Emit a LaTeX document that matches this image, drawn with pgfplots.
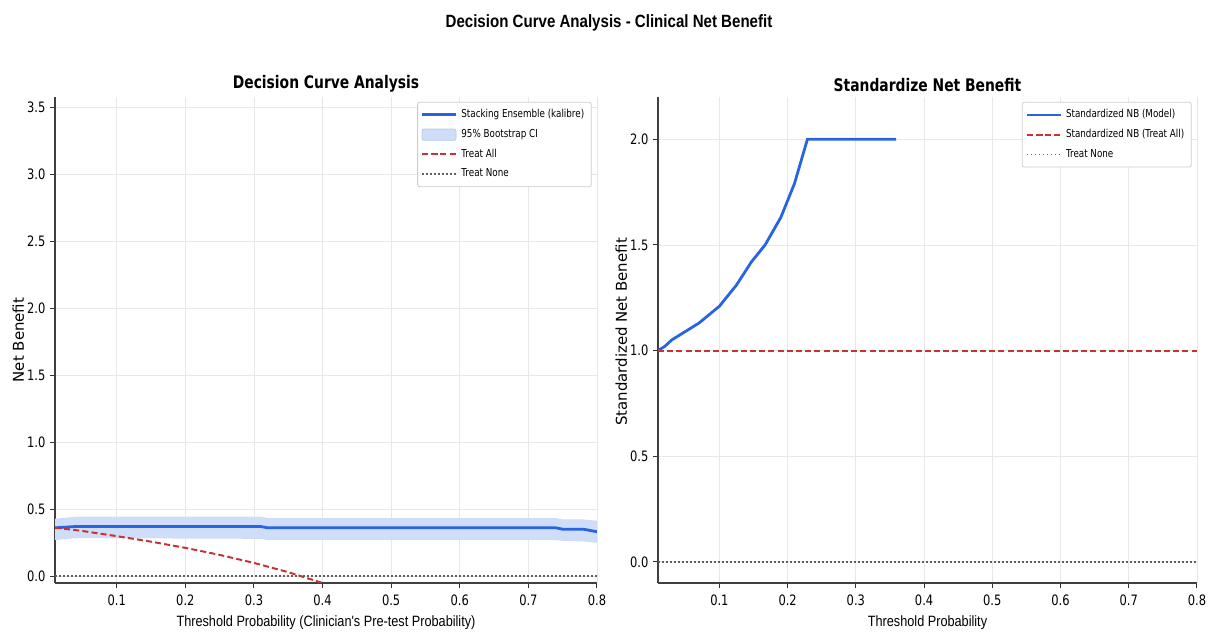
\documentclass[border=0pt]{standalone}
\usepackage{pgfplots}
\pgfplotsset{compat=1.18}
\usepackage{fontspec}
\setmainfont{DejaVu Sans}[FakeStretch=0.8]
\newfontfamily\djv{DejaVu Sans}
\newfontfamily\arialc{Liberation Sans}[FakeStretch=0.85]
\definecolor{nbblue}{RGB}{40,100,225}
\definecolor{nbred}{RGB}{200,50,50}
\definecolor{nbgray}{RGB}{95,95,95}
\pgfplotsset{
  dcastyle/.style={
    scale only axis,
    axis x line*=bottom, axis y line*=left,
    xmin=0.01, xmax=0.8,
    xtick={0.1,0.2,0.3,0.4,0.5,0.6,0.7,0.8},
    grid=major, grid style={black!9, line width=0.4pt},
    tick style={black!80, line width=0.5pt},
    major tick length=2.5bp, tick align=outside,
    axis line style={black!75, line width=0.6pt},
    ticklabel style={font=\fontsize{7.2}{8}\selectfont},
    yticklabel style={xshift=1.2bp},
    /pgf/number format/assume math mode=true,
    xticklabel style={/pgf/number format/.cd, fixed, fixed zerofill, precision=1},
    yticklabel style={/pgf/number format/.cd, fixed, fixed zerofill, precision=1},
    title style={font=\bfseries\fontsize{8.7}{9}\selectfont, yshift=-7bp},
    xlabel style={font=\arialc\fontsize{7.5}{8}\selectfont, yshift=2bp},
    ylabel style={font=\djv\fontsize{7.5}{8}\selectfont},
    legend style={at={(0.99,0.99)}, anchor=north east, font=\fontsize{5.5}{6.5}\selectfont,
      draw=black!20, rounded corners=1pt, row sep=0.3bp, inner sep=1.5bp},
    legend cell align=left,
    width=271bp, height=243bp,
  }
}
\begin{document}
\begin{tikzpicture}
\path[use as bounding box] (0,0) rectangle (605.5bp,317.5bp);
\node[font=\arialc\bfseries\fontsize{8.9}{9}\selectfont] at (304.5bp,306bp) {Decision Curve Analysis - Clinical Net Benefit};

\begin{axis}[dcastyle, at={(27.5bp,26bp)}, anchor=south west,
  ymin=-0.05, ymax=3.58, ytick={0,0.5,1,1.5,2,2.5,3,3.5},
  title={Decision Curve Analysis},
  xlabel={Threshold Probability (Clinician's Pre-test Probability)},
  ylabel={Net Benefit}, ylabel style={yshift=-5.3bp}]
\addlegendimage{nbblue, line width=1.4pt}
\addlegendentry{Stacking Ensemble (kalibre)}
\addlegendimage{area legend, fill=nbblue!22, draw=nbblue!35}
\addlegendentry{95\% Bootstrap CI}
\addlegendimage{nbred, dash pattern=on 3bp off 1.6bp, line width=1pt}
\addlegendentry{Treat All}
\addlegendimage{nbgray, dash pattern=on 0.8bp off 1.2bp, line width=0.9pt}
\addlegendentry{Treat None}
\addplot[forget plot, fill=nbblue!22, draw=none] coordinates {
 (0.01,0.43) (0.04,0.445) (0.31,0.445) (0.32,0.435) (0.74,0.435) (0.75,0.425) (0.78,0.425) (0.80,0.415)
 (0.80,0.25) (0.78,0.26) (0.75,0.265) (0.74,0.27) (0.32,0.27) (0.31,0.28) (0.04,0.285) (0.01,0.27)
} -- cycle;
\addplot[forget plot, nbblue, line width=1.4pt] coordinates {
 (0.01,0.362) (0.04,0.372) (0.31,0.372) (0.32,0.362) (0.74,0.362) (0.75,0.352) (0.78,0.352) (0.80,0.333)
};
\addplot[forget plot, nbred, dash pattern=on 3bp off 1.6bp, line width=1pt] coordinates {
 (0.01,0.3636) (0.05,0.3384) (0.10,0.300) (0.15,0.2588) (0.20,0.2125) (0.25,0.160) (0.30,0.100) (0.35,0.0308) (0.40,-0.050)
};
\addplot[forget plot, nbgray, dash pattern=on 0.8bp off 1.2bp, line width=0.9pt] coordinates {(0.01,0) (0.8,0)};
\end{axis}

\begin{axis}[dcastyle, at={(329bp,26bp)}, anchor=south west,
  width=269.5bp,
  ymin=-0.1, ymax=2.2, ytick={0,0.5,1,1.5,2},
  title={Standardize Net Benefit},
  xlabel={Threshold Probability},
  ylabel={Standardized Net Benefit}, ylabel style={yshift=-5.3bp, xshift=4bp}]
\addplot[nbblue, line width=1.4pt] coordinates {
 (0.01,1.0) (0.02,1.02) (0.03,1.05) (0.05,1.09) (0.07,1.13) (0.10,1.21) (0.125,1.31) (0.147,1.42) (0.167,1.5) (0.19,1.63) (0.21,1.79) (0.229,2.0) (0.359,2.0)
};
\addlegendentry{Standardized NB (Model)}
\addplot[nbred, dash pattern=on 3bp off 1.6bp, line width=1pt] coordinates {(0.01,1) (0.8,1)};
\addlegendentry{Standardized NB (Treat All)}
\addplot[nbgray, dash pattern=on 0.8bp off 1.2bp, line width=0.9pt] coordinates {(0.01,0) (0.8,0)};
\addlegendentry{Treat None}
\end{axis}
\end{tikzpicture}
\end{document}
